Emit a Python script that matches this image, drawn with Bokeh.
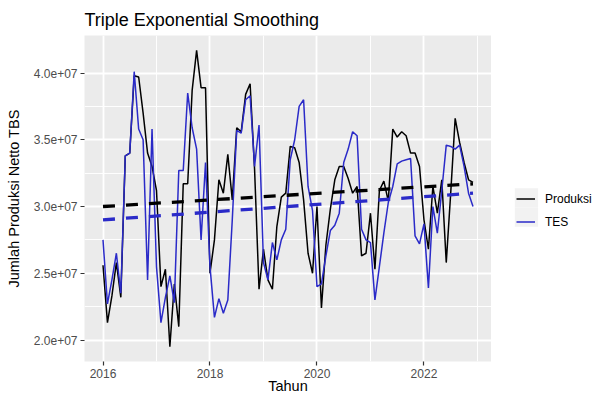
import pandas as pd
from bokeh.plotting import figure
from bokeh.models import Range1d, FixedTicker, Legend, LegendItem
from bokeh.layouts import row
from bokeh.embed import file_html
from bokeh.resources import INLINE

# ---- data (values in millions, monthly Jan 2016 .. Dec 2022) ----
start_month = "2016-01-01"
n_months = 84
produksi = [25.6, 21.3, 23.3, 25.8, 23.2, 33.8, 34.0, 39.8, 39.7, 37.0, 34.0, 33.0,
            31.2, 24.0, 25.3, 19.5, 24.2, 21.0, 31.7, 31.7, 38.7, 41.7, 38.9, 38.9,
            25.0, 27.5, 32.0, 31.0, 33.9, 30.5, 35.9, 35.6, 38.4, 39.2, 32.8, 23.8,
            26.8, 24.5, 23.8, 28.5, 30.7, 31.0, 34.5, 34.4, 33.3, 30.5, 26.5, 25.0,
            30.0, 22.4, 27.1, 29.8, 32.0, 33.0, 33.0, 32.1, 31.0, 31.5, 26.3, 26.5,
            29.5, 25.3, 31.2, 31.9, 30.4, 35.8, 35.2, 35.6, 35.3, 34.0, 34.0, 33.0,
            29.0, 26.8, 31.5, 29.5, 32.0, 25.8, 31.0, 36.6, 34.8, 33.3, 32.0, 31.8]
tes = [27.5, 22.7, 24.5, 26.5, 23.5, 33.8, 34.0, 40.1, 35.8, 35.0, 24.5, 35.8,
       25.5, 21.3, 23.2, 24.8, 22.8, 32.7, 32.7, 38.5, 35.9, 34.3, 27.5, 33.3,
       25.5, 21.7, 23.1, 22.0, 23.0, 29.0, 35.7, 35.5, 38.0, 38.3, 33.0, 36.1,
       25.8, 24.5, 27.3, 26.0, 27.5, 28.3, 33.5, 35.0, 37.5, 38.0, 31.5, 29.7,
       24.0, 24.2, 26.3, 28.2, 28.6, 29.5, 33.3, 34.3, 35.6, 35.3, 28.3, 27.5,
       27.3, 23.0, 25.5, 28.0, 30.3, 31.5, 33.2, 33.4, 33.5, 33.6, 27.8, 27.2,
       28.7, 23.9, 30.0, 28.0, 31.2, 34.6, 34.5, 34.3, 34.6, 33.0, 31.0, 30.0]
trend_produksi = [30.0, 31.7]   # at first and last month
trend_tes = [29.0, 31.0]
unit = 1e6
series_names = ["Produksi", "TES"]

x_ticks = [2016, 2018, 2020, 2022]
x_tick_labels = ["2016", "2018", "2020", "2022"]
x_minor = [2017, 2019, 2021, 2023]
y_ticks = [2.0e7, 2.5e7, 3.0e7, 3.5e7, 4.0e7]
y_tick_labels = ["2.0e+07", "2.5e+07", "3.0e+07", "3.5e+07", "4.0e+07"]
y_minor = [2.25e7, 2.75e7, 3.25e7, 3.75e7]

months = pd.date_range(start_month, periods=n_months, freq="MS")
t = list(months.year + (months.month - 1) / 12.0)
yp = [v * unit for v in produksi]
yt = [v * unit for v in tes]

# ggplot-like 5% expansion
xmin, xmax = t[0], t[-1]
dx = (xmax - xmin) * 0.05
allv = yp + yt
ymin, ymax = min(allv), max(allv)
dy = (ymax - ymin) * 0.05

FONT = "Liberation Sans"
BLUE = "#2a2ac8"
H = 396

p = figure(width=491, height=H, output_backend="svg", toolbar_location=None,
           title="Triple Exponential Smoothing",
           x_range=Range1d(xmin - dx, xmax + dx), y_range=Range1d(ymin - dy, ymax + dy),
           min_border_left=84, min_border_right=0, min_border_top=35, min_border_bottom=35)
p.background_fill_color = "#EBEBEB"
p.border_fill_color = "white"
p.outline_line_color = None

p.title.align = "left"
p.title.vertical_align = "top"
p.title.text_font = FONT
p.title.text_font_size = "18px"
p.title.text_font_style = "normal"
p.title.text_color = "black"
p.title.standoff = 8

p.xaxis.ticker = FixedTicker(ticks=x_ticks, minor_ticks=x_minor)
p.yaxis.ticker = FixedTicker(ticks=y_ticks, minor_ticks=y_minor)
p.xaxis.major_label_overrides = {k: v for k, v in zip(x_ticks, x_tick_labels)}
p.yaxis.major_label_overrides = {k: v for k, v in zip(y_ticks, y_tick_labels)}

for ax in (p.xaxis, p.yaxis):
    ax.axis_line_color = None
    ax.major_tick_out = 4
    ax.major_tick_in = 0
    ax.major_tick_line_color = "#333333"
    ax.major_tick_line_width = 1.2
    ax.minor_tick_out = 0
    ax.minor_tick_in = 0
    ax.major_label_text_font = FONT
    ax.major_label_text_font_size = "12px"
    ax.major_label_text_color = "#4D4D4D"
    ax.major_label_standoff = 3
    ax.axis_label_text_font = FONT
    ax.axis_label_text_font_style = "normal"
    ax.axis_label_text_color = "black"
    ax.axis_label_text_font_size = "14.5px"

p.yaxis.axis_label = "Jumlah Produksi Netto TBS"
p.yaxis.axis_label_standoff = 9
p.xaxis.axis_label = "Tahun"
p.xaxis.axis_label_standoff = -3

for g in (p.xgrid, p.ygrid):
    g.grid_line_color = "white"
    g.grid_line_width = 1.8
    g.minor_grid_line_color = "white"
    g.minor_grid_line_width = 0.95

p.line(t, yp, line_color="black", line_width=1.5)
p.line(t, yt, line_color=BLUE, line_width=1.5)
p.line([t[0], t[-1]], [v * unit for v in trend_produksi], line_color="black",
       line_width=3.3, line_dash="12 11")
p.line([t[0], t[-1]], [v * unit for v in trend_tes], line_color=BLUE,
       line_width=3.3, line_dash="12 11")

# ---- legend: a narrow companion figure in pixel units to the right of the panel ----
LW = 593 - 491
KEY = 23.3            # ggplot legend key size (px)
key_left = 23.3       # key column left edge inside the legend strip
keys_bottom = 163.8   # bottom of the key column (from figure bottom)
n_keys = len(series_names)

q = figure(width=LW, height=H, output_backend="svg", toolbar_location=None,
           x_range=Range1d(0, LW), y_range=Range1d(0, H),
           x_axis_type=None, y_axis_type=None, min_border=0)
q.outline_line_color = None
q.background_fill_color = "white"
q.border_fill_color = "white"
q.xgrid.visible = False
q.ygrid.visible = False
# grey key backgrounds
q.quad(left=[key_left] * n_keys, right=[key_left + KEY] * n_keys,
       bottom=[keys_bottom + KEY * k for k in range(n_keys)],
       top=[keys_bottom + KEY * (k + 1) for k in range(n_keys)],
       fill_color="#F2F2F2", line_color=None)
# key renderers (their only point lies outside the visible range)
k1 = q.line([-10, -5], [-10, -5], line_color="black", line_width=1.5)
k2 = q.line([-10, -5], [-10, -5], line_color=BLUE, line_width=1.5)

legend = Legend(items=[LegendItem(label=series_names[0], renderers=[k1]),
                       LegendItem(label=series_names[1], renderers=[k2])],
                location=(25, 128))
legend.background_fill_alpha = 0
legend.border_line_alpha = 0
legend.padding = 0
legend.margin = 0
legend.spacing = 0
legend.glyph_width = 19
legend.glyph_height = 23
legend.label_height = 23
legend.label_standoff = 10
legend.label_text_font = FONT
legend.label_text_font_size = "12px"
legend.label_text_color = "black"
q.add_layout(legend)

layout = row(p, q, spacing=0)
open("out.html", "w").write(file_html(layout, INLINE))
